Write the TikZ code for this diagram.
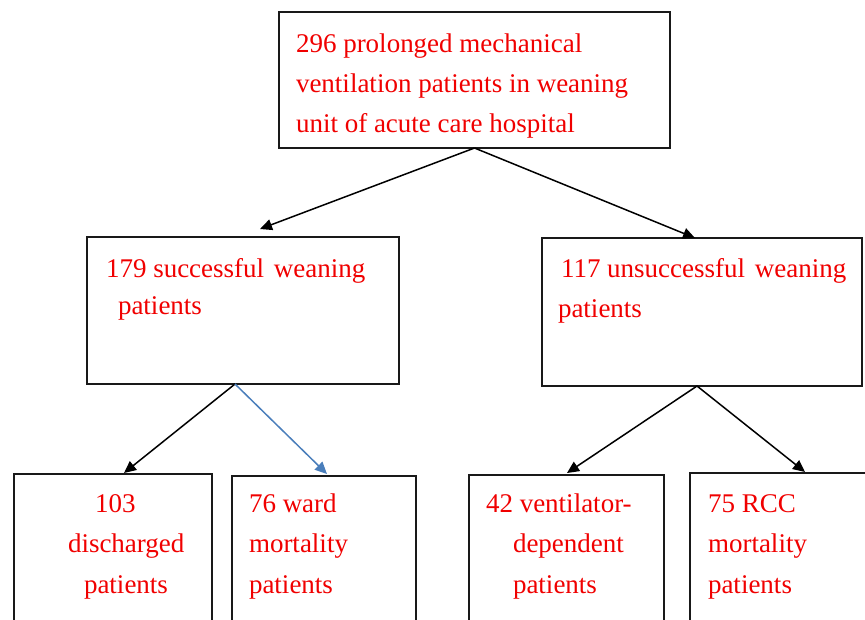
\documentclass[tikz,border=0pt]{standalone}
\usepackage{fontspec}
\setmainfont{Liberation Serif}
\usetikzlibrary{arrows.meta,calc}
\definecolor{txtred}{RGB}{240,0,0}
\definecolor{arrblue}{RGB}{74,126,187}
\begin{document}
\begin{tikzpicture}[x=1pt,y=-1pt,
  box/.style={draw=black!90, line width=1.5pt, inner sep=0pt, outer sep=0pt, anchor=north west},
  txt/.style={anchor=base west, inner sep=0pt, outer sep=0pt, align=left, text=txtred,
    font=\fontsize{27}{40.5}\selectfont},
  arr/.style={line width=1.5pt, -{Triangle[length=12pt,width=11pt]}},
  blu/.style={arr, draw=arrblue, -{Triangle[length=12pt,width=11pt,fill=arrblue]}}]
\useasboundingbox (0,0) rectangle (865,619);
\clip (0,0) rectangle (865,619);
% boxes
\node[box, minimum width=391pt, minimum height=136pt] (top) at (279,12) {};
\node[box, minimum width=312pt, minimum height=147pt] (ml) at (87,237) {};
\node[box, minimum width=320pt, minimum height=148pt] (mr) at (542,238) {};
\node[box, minimum width=198pt, minimum height=200pt] (b1) at (14,474) {};
\node[box, minimum width=184pt, minimum height=200pt] (b2) at (232,476) {};
\node[box, minimum width=195pt, minimum height=200pt] (b3) at (469,475) {};
\node[box, minimum width=200pt, minimum height=200pt] (b4) at (690,473) {};
% texts (anchor = baseline of the last line)
\node[txt, font=\fontsize{27}{40}\selectfont] (t0) at (296,132) {296 prolonged mechanical\\ventilation patients in weaning\\unit of acute care hospital};
\node[txt, font=\fontsize{27}{37}\selectfont] (t1) at (106,314) {179 successful\hspace{3pt} weaning\\\hspace*{12pt}patients};
\node[txt, font=\fontsize{27}{40}\selectfont] (t2) at (558,317) {\hspace*{3pt}117 unsuccessful\hspace{3pt} weaning\\patients};
\node[txt] (t3) at (68,593) {\hspace*{27pt}103\\discharged\\\hspace*{16pt}patients};
\node[txt] (t4) at (249,593) {76 ward\\mortality\\patients};
\node[txt] (t5) at (486,593) {42 ventilator-\\\hspace*{27pt}dependent\\\hspace*{27pt}patients};
\node[txt] (t6) at (708,593) {75 RCC\\mortality\\patients};
% connectors
\draw[arr] (top.south) -- ([shift={(173,-8)}]ml.north west);
\draw[arr] (top.south) -- ([shift={(153,0)}]mr.north west);
\draw[arr] ([xshift=-8pt]ml.south) -- ([shift={(110,-1)}]b1.north west);
\draw[blu] ([xshift=-8pt]ml.south) -- ([shift={(95,-2)}]b2.north west);
\draw[arr] ([xshift=-5pt]mr.south) -- ([shift={(98,-2)}]b3.north west);
\draw[arr] ([xshift=-5pt]mr.south) -- ([shift={(115,-1)}]b4.north west);
\end{tikzpicture}
\end{document}
